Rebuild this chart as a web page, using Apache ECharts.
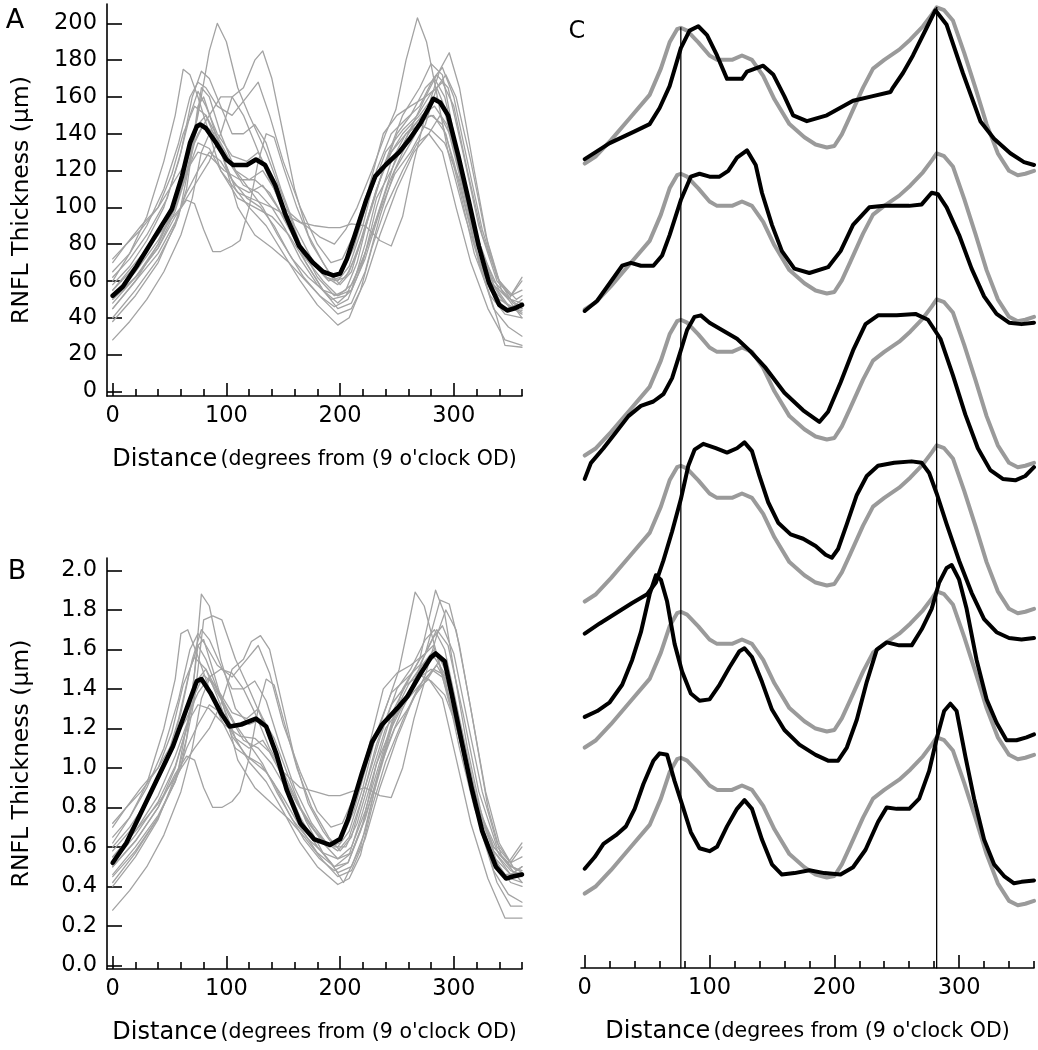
<!DOCTYPE html>
<html><head><meta charset="utf-8">
<script src="https://cdn.jsdelivr.net/npm/echarts@6/dist/echarts.min.js"></script>
<style>html,body{margin:0;padding:0;background:#fff}#c{width:1038px;height:1050px}</style>
</head><body><div id="c"></div>
<script>
// ---------- tick labels ----------
const xMajorTicks = [0, 100, 200, 300];
const xMinorTicks = [20, 40, 60, 80, 120, 140, 160, 180, 220, 240, 260, 280, 320, 340, 360];
const yTicksA = [0, 20, 40, 60, 80, 100, 120, 140, 160, 180, 200];
const yTicksB = [0, 0.2, 0.4, 0.6, 0.8, 1.0, 1.2, 1.4, 1.6, 1.8, 2.0];

// ---------- panel A: mean (black) ----------
const meanA = [[0,52],[9,57],[21,68],[36,83],[52,99],[61,117],[68,135],[74,144],[77,145],[82,143],[91,135],[100,126],[106,123],[118,123],[126,126],[134,123],[143,112],[152,96],[164,79],[176,70],[185,65],[194,63],[200,64],[206,72],[213,85],[223,104],[231,117],[240,123],[252,130],[261,137],[271,146],[278,154],[282,159],[288,157],[295,150],[304,128],[313,104],[322,79],[331,59],[340,47],[347,44],[353,45],[360,47]];

// ---------- panel A: individual eyes (grey) ----------
const gA01 = [[0,45],[20,60],[40,80],[60,110],[75,150],[85,185],[92,200],[100,190],[110,165],[120,150],[135,130],[150,105],[165,80],[180,62],[195,52],[205,55],[215,70],[225,95],[240,125],[255,150],[270,165],[280,178],[290,172],[300,140],[315,95],[330,62],[345,48],[360,42]];
const gA02 = [[0,60],[15,75],[30,95],[45,125],[55,150],[62,175],[68,172],[75,160],[85,140],[95,120],[110,105],[125,100],[140,95],[155,85],[170,70],[185,55],[198,48],[210,55],[222,80],[232,105],[245,120],[260,140],[275,160],[285,165],[295,150],[310,110],[325,75],[340,55],[360,45]];
const gA03 = [[0,55],[20,70],[40,85],[60,100],[75,115],[85,125],[95,140],[105,160],[115,165],[125,180],[132,185],[140,170],[150,140],[160,110],[172,85],[185,70],[195,60],[205,62],[215,75],[228,100],[240,125],[255,140],[270,150],[282,160],[292,155],[305,125],[320,85],[335,60],[350,50],[360,48]];
const gA04 = [[0,28],[15,38],[30,50],[45,65],[60,85],[70,105],[78,130],[85,140],[95,130],[108,110],[120,100],[135,90],[150,75],[165,60],[180,47],[198,36],[208,40],[218,55],[228,78],[240,100],[255,120],[268,135],[278,140],[290,130],[302,100],[315,70],[330,45],[345,28],[360,25]];
const gA05 = [[0,50],[20,62],[40,78],[55,95],[65,104],[72,102],[80,88],[88,76],[95,76],[105,79],[112,82],[120,100],[128,125],[135,140],[142,138],[150,122],[162,100],[175,80],[190,65],[200,58],[210,65],[222,90],[235,115],[250,140],[262,150],[275,165],[283,170],[292,160],[305,125],[320,85],[335,58],[350,45],[360,44]];
const gA06 = [[0,65],[15,75],[30,90],[45,110],[58,135],[68,160],[75,168],[82,165],[92,155],[105,150],[118,160],[128,168],[138,150],[150,125],[165,100],[180,80],[192,70],[202,72],[212,85],[225,110],[238,140],[250,150],[262,155],[275,160],[285,172],[295,165],[308,130],[322,90],[338,60],[350,52],[360,62]];
const gA07 = [[0,40],[20,55],[40,72],[55,90],[65,110],[72,140],[78,165],[85,160],[95,140],[108,120],[120,115],[132,120],[142,110],[155,90],[170,70],[185,55],[198,45],[210,48],[222,65],[235,95],[248,120],[262,135],[275,150],[288,175],[296,184],[305,165],[318,120],[330,80],[342,55],[360,40]];
const gA08 = [[0,70],[12,80],[25,90],[40,100],[55,115],[65,125],[75,140],[85,150],[95,160],[105,160],[115,150],[125,135],[138,115],[150,100],[165,92],[178,90],[190,89],[200,89],[210,91],[222,90],[235,82],[245,79],[255,95],[265,125],[275,150],[285,160],[292,152],[305,120],[320,80],[335,55],[350,45],[360,50]];
const gA09 = [[0,38],[20,52],[40,70],[58,95],[68,125],[75,155],[80,160],[88,145],[98,125],[110,100],[125,85],[140,78],[155,70],[170,60],[185,50],[198,42],[210,45],[222,60],[235,85],[250,110],[265,130],[278,140],[288,150],[298,138],[310,105],[322,70],[335,45],[348,35],[360,30]];
const gA10 = [[0,58],[15,68],[30,82],[45,100],[58,125],[68,150],[75,163],[82,155],[92,140],[105,128],[118,125],[128,130],[138,118],[150,98],[165,80],[178,68],[190,60],[200,62],[212,78],[225,105],[240,130],[255,142],[268,150],[280,162],[290,168],[300,155],[312,120],[325,85],[340,60],[355,50],[360,52]];
const gA11 = [[0,48],[20,62],[40,80],[55,100],[65,120],[75,145],[82,150],[92,135],[105,115],[118,105],[130,100],[142,90],[155,75],[168,62],[182,52],[195,46],[207,50],[220,70],[232,100],[245,125],[258,140],[270,148],[282,150],[293,140],[305,110],[318,75],[332,52],[345,42],[360,40]];
const gA12 = [[0,62],[15,72],[30,85],[48,105],[60,130],[70,160],[78,174],[85,170],[95,155],[105,140],[115,140],[125,145],[135,135],[148,110],[160,90],[175,72],[188,62],[198,60],[208,68],[220,90],[232,120],[245,140],[258,148],[270,155],[282,170],[290,176],[300,160],[312,125],[325,88],[338,62],[350,52],[360,55]];
const gA13 = [[0,55],[20,68],[40,85],[55,105],[65,120],[75,130],[85,128],[98,120],[112,115],[125,115],[138,108],[150,95],[162,82],[175,70],[188,62],[198,58],[208,65],[220,85],[232,110],[245,130],[258,140],[270,145],[280,142],[292,135],[305,115],[318,80],[332,55],[345,45],[360,46]];
const gA14 = [[0,45],[20,60],[40,75],[55,92],[65,108],[75,120],[85,130],[95,125],[108,112],[120,108],[132,112],[145,100],[158,85],[170,72],[185,60],[198,52],[210,55],[222,72],[235,98],[248,118],[262,130],[275,145],[285,165],[293,172],[302,160],[315,125],[328,85],[340,60],[352,48],[360,45]];
const gA15 = [[0,72],[12,80],[25,88],[40,100],[52,118],[62,140],[72,155],[82,150],[95,135],[108,120],[120,110],[132,100],[145,85],[158,72],[172,62],[185,55],[198,52],[210,58],[222,75],[235,100],[248,125],[260,140],[272,150],[283,155],[294,145],[306,115],[320,80],[335,58],[348,50],[360,60]];
const gA16 = [[0,52],[20,65],[40,82],[55,100],[65,118],[72,135],[80,145],[90,140],[102,125],[115,112],[128,108],[140,100],[152,88],[165,72],[180,58],[192,50],[205,52],[218,68],[230,90],[242,112],[255,130],[268,145],[280,150],[290,145],[300,125],[312,95],[325,65],[338,40],[345,25],[360,24]];
const gA17 = [[0,50],[20,62],[40,78],[55,98],[65,118],[75,135],[85,132],[95,120],[110,108],[125,104],[140,100],[155,95],[170,90],[182,84],[195,80],[205,88],[215,100],[228,120],[240,140],[249,153],[258,180],[268,203],[276,190],[284,165],[295,130],[310,95],[325,65],[340,50],[360,43]];
const greyA = [gA01,gA02,gA03,gA04,gA05,gA06,gA07,gA08,gA09,gA10,gA11,gA12,gA13,gA14,gA15,gA16,gA17];

// ---------- panel B: normalised mean (black) ----------
const meanB = [[0,0.52],[12,0.62],[23,0.75],[38,0.93],[53,1.11],[65,1.3],[74,1.44],[78,1.45],[86,1.38],[95,1.28],[103,1.21],[113,1.22],[126,1.25],[135,1.21],[144,1.07],[153,0.89],[165,0.72],[177,0.64],[191,0.61],[200,0.64],[207,0.74],[219,0.97],[228,1.13],[237,1.22],[250,1.3],[259,1.36],[271,1.48],[280,1.56],[284,1.58],[292,1.54],[298,1.38],[307,1.13],[316,0.89],[325,0.68],[337,0.5],[346,0.44],[352,0.45],[360,0.46]];

// ---------- panel B: normalised individual eyes (grey) ----------
const gB01 = [[0,0.45],[20,0.58],[40,0.75],[60,1.0],[72,1.35],[80,1.75],[88,1.77],[96,1.75],[108,1.55],[120,1.4],[135,1.2],[150,0.95],[165,0.75],[180,0.6],[195,0.5],[207,0.52],[218,0.68],[230,0.9],[242,1.15],[255,1.4],[270,1.55],[282,1.62],[292,1.45],[305,1.1],[318,0.8],[332,0.58],[345,0.45],[360,0.42]];
const gB02 = [[0,0.62],[15,0.75],[30,0.92],[45,1.2],[55,1.45],[60,1.68],[66,1.7],[74,1.58],[85,1.4],[95,1.25],[108,1.1],[120,1.05],[135,0.98],[150,0.85],[165,0.7],[180,0.57],[195,0.5],[208,0.56],[220,0.78],[232,1.02],[245,1.2],[258,1.35],[272,1.52],[283,1.6],[293,1.5],[305,1.15],[320,0.8],[335,0.58],[350,0.48],[360,0.46]];
const gB03 = [[0,0.55],[20,0.68],[40,0.82],[58,0.98],[72,1.1],[85,1.2],[95,1.32],[105,1.5],[115,1.55],[122,1.64],[130,1.67],[138,1.6],[148,1.35],[160,1.05],[172,0.82],[185,0.68],[195,0.6],[205,0.6],[215,0.72],[228,0.98],[240,1.2],[255,1.32],[270,1.42],[282,1.5],[292,1.47],[305,1.2],[320,0.82],[335,0.6],[350,0.5],[360,0.48]];
const gB04 = [[0,0.28],[15,0.38],[30,0.5],[45,0.66],[60,0.88],[70,1.1],[78,1.35],[85,1.45],[95,1.35],[108,1.15],[120,1.03],[135,0.93],[150,0.78],[165,0.62],[180,0.5],[198,0.41],[208,0.44],[218,0.56],[228,0.8],[240,1.03],[255,1.24],[268,1.4],[278,1.45],[290,1.35],[302,1.05],[315,0.72],[330,0.44],[345,0.24],[360,0.24]];
const gB05 = [[0,0.5],[20,0.63],[40,0.8],[55,0.97],[65,1.06],[72,1.04],[80,0.9],[88,0.8],[96,0.8],[105,0.83],[112,0.88],[120,1.05],[128,1.3],[135,1.45],[142,1.42],[150,1.25],[162,1.0],[175,0.8],[190,0.65],[200,0.58],[210,0.65],[222,0.9],[235,1.15],[250,1.4],[262,1.5],[275,1.65],[283,1.7],[292,1.6],[305,1.25],[320,0.85],[335,0.58],[350,0.46],[360,0.45]];
const gB06 = [[0,0.65],[15,0.75],[30,0.9],[45,1.1],[58,1.35],[68,1.6],[75,1.68],[82,1.62],[92,1.52],[105,1.46],[118,1.55],[128,1.62],[138,1.48],[150,1.22],[165,0.98],[180,0.78],[192,0.7],[202,0.72],[212,0.85],[225,1.1],[238,1.4],[250,1.48],[262,1.52],[275,1.58],[285,1.7],[295,1.62],[308,1.28],[322,0.88],[338,0.6],[350,0.52],[360,0.6]];
const gB07 = [[0,0.42],[20,0.57],[40,0.75],[55,0.93],[65,1.15],[72,1.48],[78,1.88],[85,1.82],[95,1.55],[108,1.3],[120,1.22],[132,1.25],[142,1.15],[155,0.95],[170,0.73],[185,0.57],[198,0.47],[210,0.5],[222,0.68],[235,1.0],[248,1.25],[262,1.4],[275,1.58],[288,1.85],[296,1.83],[305,1.62],[318,1.2],[330,0.8],[342,0.55],[360,0.42]];
const gB08 = [[0,0.7],[12,0.8],[25,0.9],[40,1.0],[55,1.15],[65,1.25],[75,1.38],[85,1.46],[95,1.5],[105,1.48],[115,1.4],[125,1.28],[138,1.1],[150,0.98],[165,0.9],[178,0.88],[190,0.86],[200,0.86],[210,0.88],[222,0.9],[235,0.86],[245,0.85],[255,1.0],[265,1.25],[275,1.45],[285,1.52],[292,1.45],[305,1.15],[320,0.78],[335,0.55],[350,0.46],[360,0.5]];
const gB09 = [[0,0.4],[20,0.55],[40,0.74],[58,1.0],[68,1.3],[75,1.62],[80,1.65],[88,1.5],[98,1.3],[110,1.04],[125,0.9],[140,0.82],[155,0.74],[170,0.64],[185,0.53],[198,0.45],[210,0.48],[222,0.64],[235,0.9],[250,1.15],[265,1.36],[278,1.46],[288,1.55],[298,1.43],[310,1.1],[322,0.74],[335,0.48],[348,0.36],[360,0.32]];
const gB10 = [[0,0.58],[15,0.68],[30,0.82],[45,1.0],[58,1.25],[68,1.5],[75,1.62],[82,1.55],[92,1.4],[105,1.28],[118,1.25],[128,1.3],[138,1.18],[150,0.98],[165,0.8],[178,0.68],[190,0.6],[200,0.62],[212,0.78],[225,1.05],[240,1.3],[252,1.5],[260,1.72],[266,1.89],[274,1.82],[284,1.6],[295,1.35],[310,1.05],[325,0.75],[340,0.56],[355,0.48],[360,0.5]];
const gB11 = [[0,0.5],[20,0.63],[40,0.8],[55,1.0],[65,1.2],[75,1.45],[82,1.5],[92,1.36],[105,1.16],[118,1.06],[130,1.02],[142,0.92],[155,0.77],[168,0.64],[182,0.54],[195,0.48],[207,0.52],[220,0.72],[232,1.02],[245,1.27],[258,1.42],[270,1.55],[278,1.75],[284,1.9],[292,1.78],[300,1.5],[312,1.1],[325,0.75],[338,0.52],[350,0.42],[360,0.4]];
const gB12 = [[0,0.6],[15,0.7],[30,0.83],[48,1.03],[60,1.28],[70,1.55],[78,1.7],[85,1.65],[95,1.52],[105,1.4],[115,1.4],[125,1.44],[135,1.34],[148,1.1],[160,0.9],[175,0.72],[188,0.62],[198,0.6],[208,0.68],[220,0.9],[232,1.18],[245,1.38],[258,1.45],[270,1.52],[282,1.66],[290,1.72],[300,1.58],[312,1.24],[325,0.88],[338,0.62],[350,0.52],[360,0.55]];
const gB13 = [[0,0.55],[20,0.68],[40,0.86],[55,1.06],[65,1.22],[75,1.32],[85,1.3],[98,1.22],[112,1.16],[125,1.15],[138,1.08],[150,0.95],[162,0.82],[175,0.7],[188,0.62],[198,0.58],[208,0.65],[220,0.86],[232,1.12],[245,1.32],[258,1.42],[270,1.47],[280,1.44],[292,1.37],[305,1.17],[318,0.82],[332,0.56],[345,0.46],[360,0.47]];
const gB14 = [[0,0.46],[20,0.6],[40,0.76],[55,0.93],[65,1.1],[75,1.22],[85,1.32],[95,1.28],[108,1.15],[120,1.1],[132,1.14],[145,1.02],[158,0.87],[170,0.74],[185,0.62],[198,0.54],[210,0.57],[222,0.74],[235,1.0],[248,1.2],[262,1.32],[275,1.47],[285,1.67],[293,1.8],[302,1.7],[315,1.3],[328,0.88],[340,0.62],[352,0.5],[360,0.47]];
const gB15 = [[0,0.72],[12,0.8],[25,0.88],[40,1.0],[52,1.18],[62,1.42],[72,1.56],[82,1.5],[95,1.36],[108,1.22],[120,1.12],[132,1.02],[145,0.87],[158,0.74],[172,0.64],[185,0.57],[198,0.54],[210,0.6],[222,0.78],[235,1.03],[248,1.28],[260,1.42],[272,1.52],[283,1.56],[294,1.46],[306,1.16],[320,0.82],[335,0.6],[348,0.52],[360,0.62]];
const gB16 = [[0,0.52],[20,0.66],[40,0.83],[55,1.01],[65,1.2],[72,1.37],[80,1.47],[90,1.42],[102,1.27],[115,1.14],[128,1.1],[140,1.02],[152,0.9],[165,0.74],[180,0.6],[192,0.52],[203,0.42],[218,0.6],[230,0.88],[242,1.12],[255,1.3],[268,1.45],[280,1.5],[290,1.46],[300,1.27],[312,0.97],[325,0.66],[338,0.42],[350,0.3],[360,0.3]];
const greyB = [gB01,gB02,gB03,gB04,gB05,gB06,gB07,gB08,gB09,gB10,gB11,gB12,gB13,gB14,gB15,gB16];

// ---------- panel C: six individual eyes (black) vs. mean template (grey) ----------
const cBlack0 = [[0,55],[20,66],[40,74],[52,79],[60,90],[68,105],[77,131],[84,143],[91,146],[98,140],[106,126],[114,110],[126,110],[130,115],[143,119],[151,113],[160,98],[167,85],[178,81],[194,85],[215,95],[230,98],[245,101],[247,104],[255,114],[263,126],[274,145],[281,157],[290,147],[303,114],[317,81],[328,69],[341,59],[352,53],[360,51]];
const cBlack1 = [[0,51],[10,58],[20,70],[30,82],[37,84],[45,82],[55,82],[62,89],[68,103],[77,127],[85,143],[92,145],[100,143],[108,143],[115,147],[122,156],[130,161],[137,151],[142,132],[150,110],[158,92],[168,80],[180,77],[195,81],[205,92],[215,110],[228,122],[240,123],[260,123],[270,124],[278,132],[283,131],[290,122],[300,103],[310,80],[320,61],[330,49],[340,43],[350,42],[360,43]];
const cBlack2 = [[0,36],[5,47],[15,57],[25,68],[35,79],[45,86],[55,89],[63,94],[70,105],[77,124],[82,138],[88,147],[93,148],[100,143],[112,137],[122,132],[132,124],[145,112],[160,95],[175,83],[188,75],[195,82],[205,102],[215,124],[225,142],[235,148],[250,148],[265,149],[275,145],[285,132],[295,107],[305,80],[315,57],[325,42],[335,36],[345,35],[353,38],[360,44]];
const cBlack3 = [[0,30],[12,37],[25,44],[38,51],[50,57],[57,65],[63,80],[70,100],[77,122],[83,145],[88,156],[95,160],[105,157],[114,154],[122,157],[128,161],[134,155],[140,138],[147,120],[155,106],[165,98],[175,95],[185,90],[193,84],[198,82],[203,88],[210,105],[218,125],[226,138],[235,145],[248,147],[262,148],[270,147],[276,140],[282,126],[290,105],[300,80],[310,58],[320,40],[330,31],[340,27],[350,26],[360,27]];
const cBlack4 = [[0,73],[10,77],[20,83],[30,95],[38,112],[45,131],[52,157],[57,170],[61,167],[66,152],[72,123],[78,104],[85,89],[92,84],[100,85],[108,95],[116,107],[124,118],[128,120],[134,114],[142,97],[150,78],[160,64],[172,54],[185,47],[195,43],[203,43],[210,52],[218,71],[226,97],[234,119],[242,124],[252,122],[262,122],[270,133],[278,147],[284,165],[290,175],[294,177],[300,167],[306,147],[314,112],[322,85],[330,69],[338,57],[346,57],[354,59],[360,61]];
const cBlack5 = [[0,69],[8,77],[15,86],[25,92],[33,98],[40,110],[47,127],[55,143],[60,148],[66,147],[72,129],[78,113],[85,94],[92,83],[100,81],[106,84],[114,98],[122,110],[128,116],[134,110],[142,89],[150,72],[158,65],[168,66],[180,68],[192,66],[205,65],[215,70],[225,82],[235,101],[242,111],[250,110],[260,110],[268,117],[276,136],[282,158],[288,177],[293,182],[298,177],[305,146],[312,117],[320,89],[328,72],[336,64],[344,59],[350,60],[360,61]];
const cBlack = [cBlack0, cBlack1, cBlack2, cBlack3, cBlack4, cBlack5];
const cOffsets = [500, 400, 300, 200, 100, 0];
const cPeakLines = [77, 282];

// ---------- build chart ----------
const FONT = 'DejaVu Sans';
const chart = echarts.init(document.getElementById('c'), null, {renderer: 'canvas'});

function line(data, xi, yi, color, width, z) {
  return {type: 'line', xAxisIndex: xi, yAxisIndex: yi, data: data, symbol: 'none', showSymbol: false,
    silent: true, animation: false, z: z, lineStyle: {color: color, width: width, join: 'round', cap: 'round'}};
}
const titleName = '{a|Distance} {b|(degrees from (9 o\'clock OD)}';
const titleStyle = {color: '#000', rich: {a: {fontSize: 24, fontFamily: FONT, color: '#000'}, b: {fontSize: 20.5, fontFamily: FONT, color: '#000'}}};
const axLine = {show: true, onZero: false, lineStyle: {color: '#000', width: 1.6}};

function xMain(grid, min) {
  return {type: 'value', gridIndex: grid, position: 'bottom', min: min, max: 360, axisLine: axLine,
    axisTick: {show: true, inside: true, length: 13, customValues: xMajorTicks, lineStyle: {color: '#000', width: 1.6}},
    axisLabel: {customValues: xMajorTicks, fontSize: 22.5, fontFamily: FONT, color: '#000', margin: 9},
    splitLine: {show: false}, name: titleName, nameLocation: 'middle', nameGap: 52, nameTextStyle: titleStyle};
}
function xMinor(grid, min) {
  return {type: 'value', gridIndex: grid, position: 'bottom', min: min, max: 360, axisLine: {show: false, onZero: false},
    axisTick: {show: true, inside: true, length: 7, customValues: xMinorTicks, lineStyle: {color: '#000', width: 1.6}},
    axisLabel: {show: false}, splitLine: {show: false}};
}
function yMain(grid, min, max, ticks, fmt) {
  return {type: 'value', gridIndex: grid, position: 'left', min: min, max: max, axisLine: axLine,
    axisTick: {show: true, inside: true, length: 15, customValues: ticks, lineStyle: {color: '#000', width: 1.6}},
    axisLabel: {customValues: ticks, fontSize: 22.5, fontFamily: FONT, color: '#000', margin: 10, formatter: fmt},
    splitLine: {show: false}, name: 'RNFL Thickness (\u00b5m)', nameLocation: 'middle', nameRotate: 90, nameGap: 73,
    nameTextStyle: {fontSize: 23.5, fontFamily: FONT, color: '#000'}};
}

const series = [];
greyA.forEach(g => series.push(line(g, 0, 0, '#a3a3a3', 1.3, 2)));
series.push(line(meanA, 0, 0, '#000', 4.6, 5));
greyB.forEach(g => series.push(line(g, 2, 1, '#a3a3a3', 1.3, 2)));
series.push(line(meanB, 2, 1, '#000', 4.6, 5));
cBlack.forEach((b, i) => {
  const off = cOffsets[i];
  series.push(line(meanA.map(p => [p[0], p[1] + off]), 4, 2, '#9a9a9a', 4, 3));
  series.push(line(b.map(p => [p[0], p[1] + off]), 4, 2, '#000', 4, 4));
});
cPeakLines.forEach(x => {
  const top = meanA.find(p => p[0] === x)[1] + cOffsets[0];
  series.push(line([[x, top], [x, 1]], 4, 2, '#000', 1.3, 6));
});

chart.setOption({
  animation: false,
  backgroundColor: '#fff',
  grid: [
    {left: 107, top: 4, width: 415, height: 392},
    {left: 107, top: 558, width: 415, height: 411},
    {left: 581, top: 0, width: 453, height: 968}
  ],
  xAxis: [xMain(0, -5), xMinor(0, -5), xMain(1, -5), xMinor(1, -5), xMain(2, -3), xMinor(2, -3)],
  yAxis: [
    yMain(0, -2.5, 210.5, yTicksA, v => String(v)),
    yMain(1, -0.018, 2.063, yTicksB, v => v.toFixed(1)),
    {type: 'value', gridIndex: 2, min: 1, max: 664, show: false}
  ],
  graphic: [
    {type: 'text', x: 15, y: 21, style: {text: 'A', fontSize: 27, fontFamily: FONT, fill: '#000', align: 'center', verticalAlign: 'middle'}},
    {type: 'text', x: 17, y: 572, style: {text: 'B', fontSize: 27, fontFamily: FONT, fill: '#000', align: 'center', verticalAlign: 'middle'}},
    {type: 'text', x: 577, y: 32, style: {text: 'C', fontSize: 24, fontFamily: FONT, fill: '#000', align: 'center', verticalAlign: 'middle'}}
  ],
  series: series
});
</script>
</body></html>
